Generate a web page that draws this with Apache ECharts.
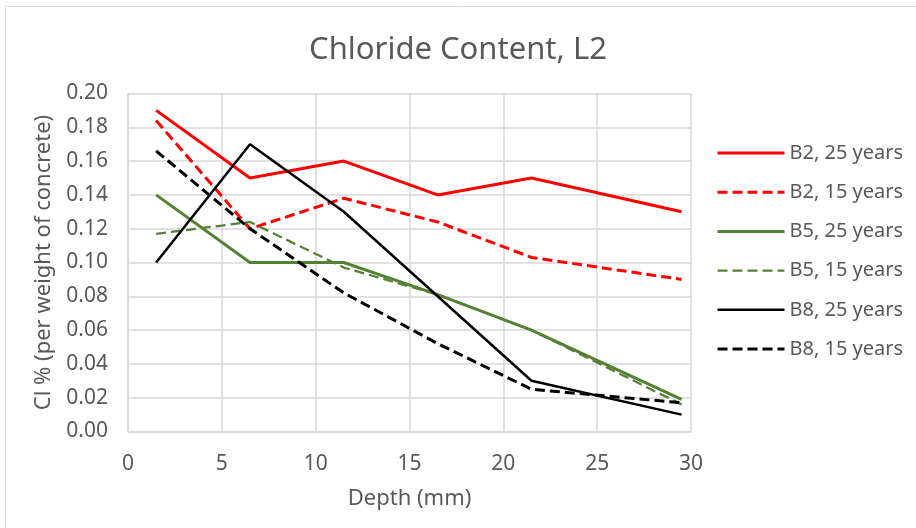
<!DOCTYPE html>
<html><head><meta charset="utf-8">
<script src="https://cdn.jsdelivr.net/npm/echarts@6/dist/echarts.min.js"></script>
<style>html,body{margin:0;padding:0;background:#fff}#c{width:916px;height:528px}</style>
</head><body><div id="c"></div>
<script>
var depth = [1.5, 6.5, 11.5, 16.5, 21.5, 29.5];
var b2_25 = [0.19, 0.15, 0.16, 0.14, 0.15, 0.13];
var b2_15 = [0.184, 0.120, 0.138, 0.124, 0.103, 0.090];
var b5_25 = [0.140, 0.100, 0.100, 0.081, 0.060, 0.019];
var b5_15 = [0.117, 0.124, 0.097, 0.081, 0.060, 0.016];
var b8_25 = [0.100, 0.170, 0.130, 0.080, 0.030, 0.010];
var b8_15 = [0.166, 0.120, 0.082, 0.052, 0.025, 0.017];
var seriesNames = ['B2, 25 years','B2, 15 years','B5, 25 years','B5, 15 years','B8, 25 years','B8, 15 years'];
var yTicks = ['0.00','0.02','0.04','0.06','0.08','0.10','0.12','0.14','0.16','0.18','0.20'];

function pairs(v){ return depth.map(function(d,i){ return [d, v[i]]; }); }
var FONT = 'Noto Sans';
var TXT = '#595959';
var colors = ['#ff0000','#ff0000','#548235','#548235','#000000','#000000'];
var widths = [3, 3, 3, 2.25, 2.5, 3];
var dashed = [false, true, false, true, false, true];
var values = [b2_25, b2_15, b5_25, b5_15, b8_25, b8_15];
function mk(i){
  return {name:seriesNames[i], type:'line', data:pairs(values[i]), symbol:'circle', showSymbol:false, smooth:false,
    lineStyle:{color:colors[i], width:widths[i], type: dashed[i] ? [10,5] : 'solid'},
    itemStyle:{color:colors[i]}, emphasis:{disabled:true}, animation:false};
}
var chart = echarts.init(document.getElementById('c'));
chart.setOption({
  animation:false,
  backgroundColor:'#fff',
  graphic:[{type:'rect', shape:{x:5.5,y:6.5,width:920,height:530}, style:{fill:'none', stroke:'#d9d9d9', lineWidth:1}, silent:true}],
  title:{text:'Chloride Content, L2', left:'center', top:35, textStyle:{fontFamily:FONT, fontSize:31, fontWeight:'normal', color:TXT}, padding:0},
  grid:{left:128, top:93.5, right:225, bottom:96.5},
  legend:{orient:'vertical', left:716, top:143, padding:0, itemWidth:67, itemHeight:14, itemGap:19.2,
    itemStyle:{opacity:0},
    textStyle:{fontFamily:FONT, fontSize:20, color:TXT},
    data:seriesNames.map(function(n,i){ return {name:n, lineStyle:{width:widths[i], color:colors[i], type: dashed[i] ? [10,5] : 'solid'}}; })},
  xAxis:{type:'value', min:0, max:30, interval:5, name:'Depth (mm)', nameLocation:'middle', nameGap:56,
    nameTextStyle:{fontFamily:FONT, fontSize:22, color:TXT},
    axisLine:{show:true, lineStyle:{color:'#d9d9d9', width:1.5}}, axisTick:{show:false},
    axisLabel:{fontFamily:FONT, fontSize:21, color:TXT, margin:22},
    splitLine:{show:true, lineStyle:{color:'#d9d9d9', width:1.5}}},
  yAxis:{type:'value', min:0, max:0.2, interval:0.02, name:'Cl % (per weight of concrete)', nameLocation:'middle', nameGap:73,
    nameTextStyle:{fontFamily:FONT, fontSize:22, color:TXT},
    axisLine:{show:true, lineStyle:{color:'#d9d9d9', width:1.5}}, axisTick:{show:false},
    axisLabel:{fontFamily:FONT, fontSize:21, color:TXT, margin:20, formatter:function(v){ return yTicks[Math.round(v/0.02)]; }},
    splitLine:{show:true, lineStyle:{color:'#d9d9d9', width:1.5}}},
  series:[mk(0), mk(1), mk(2), mk(3), mk(4), mk(5)]
});
</script></body></html>
